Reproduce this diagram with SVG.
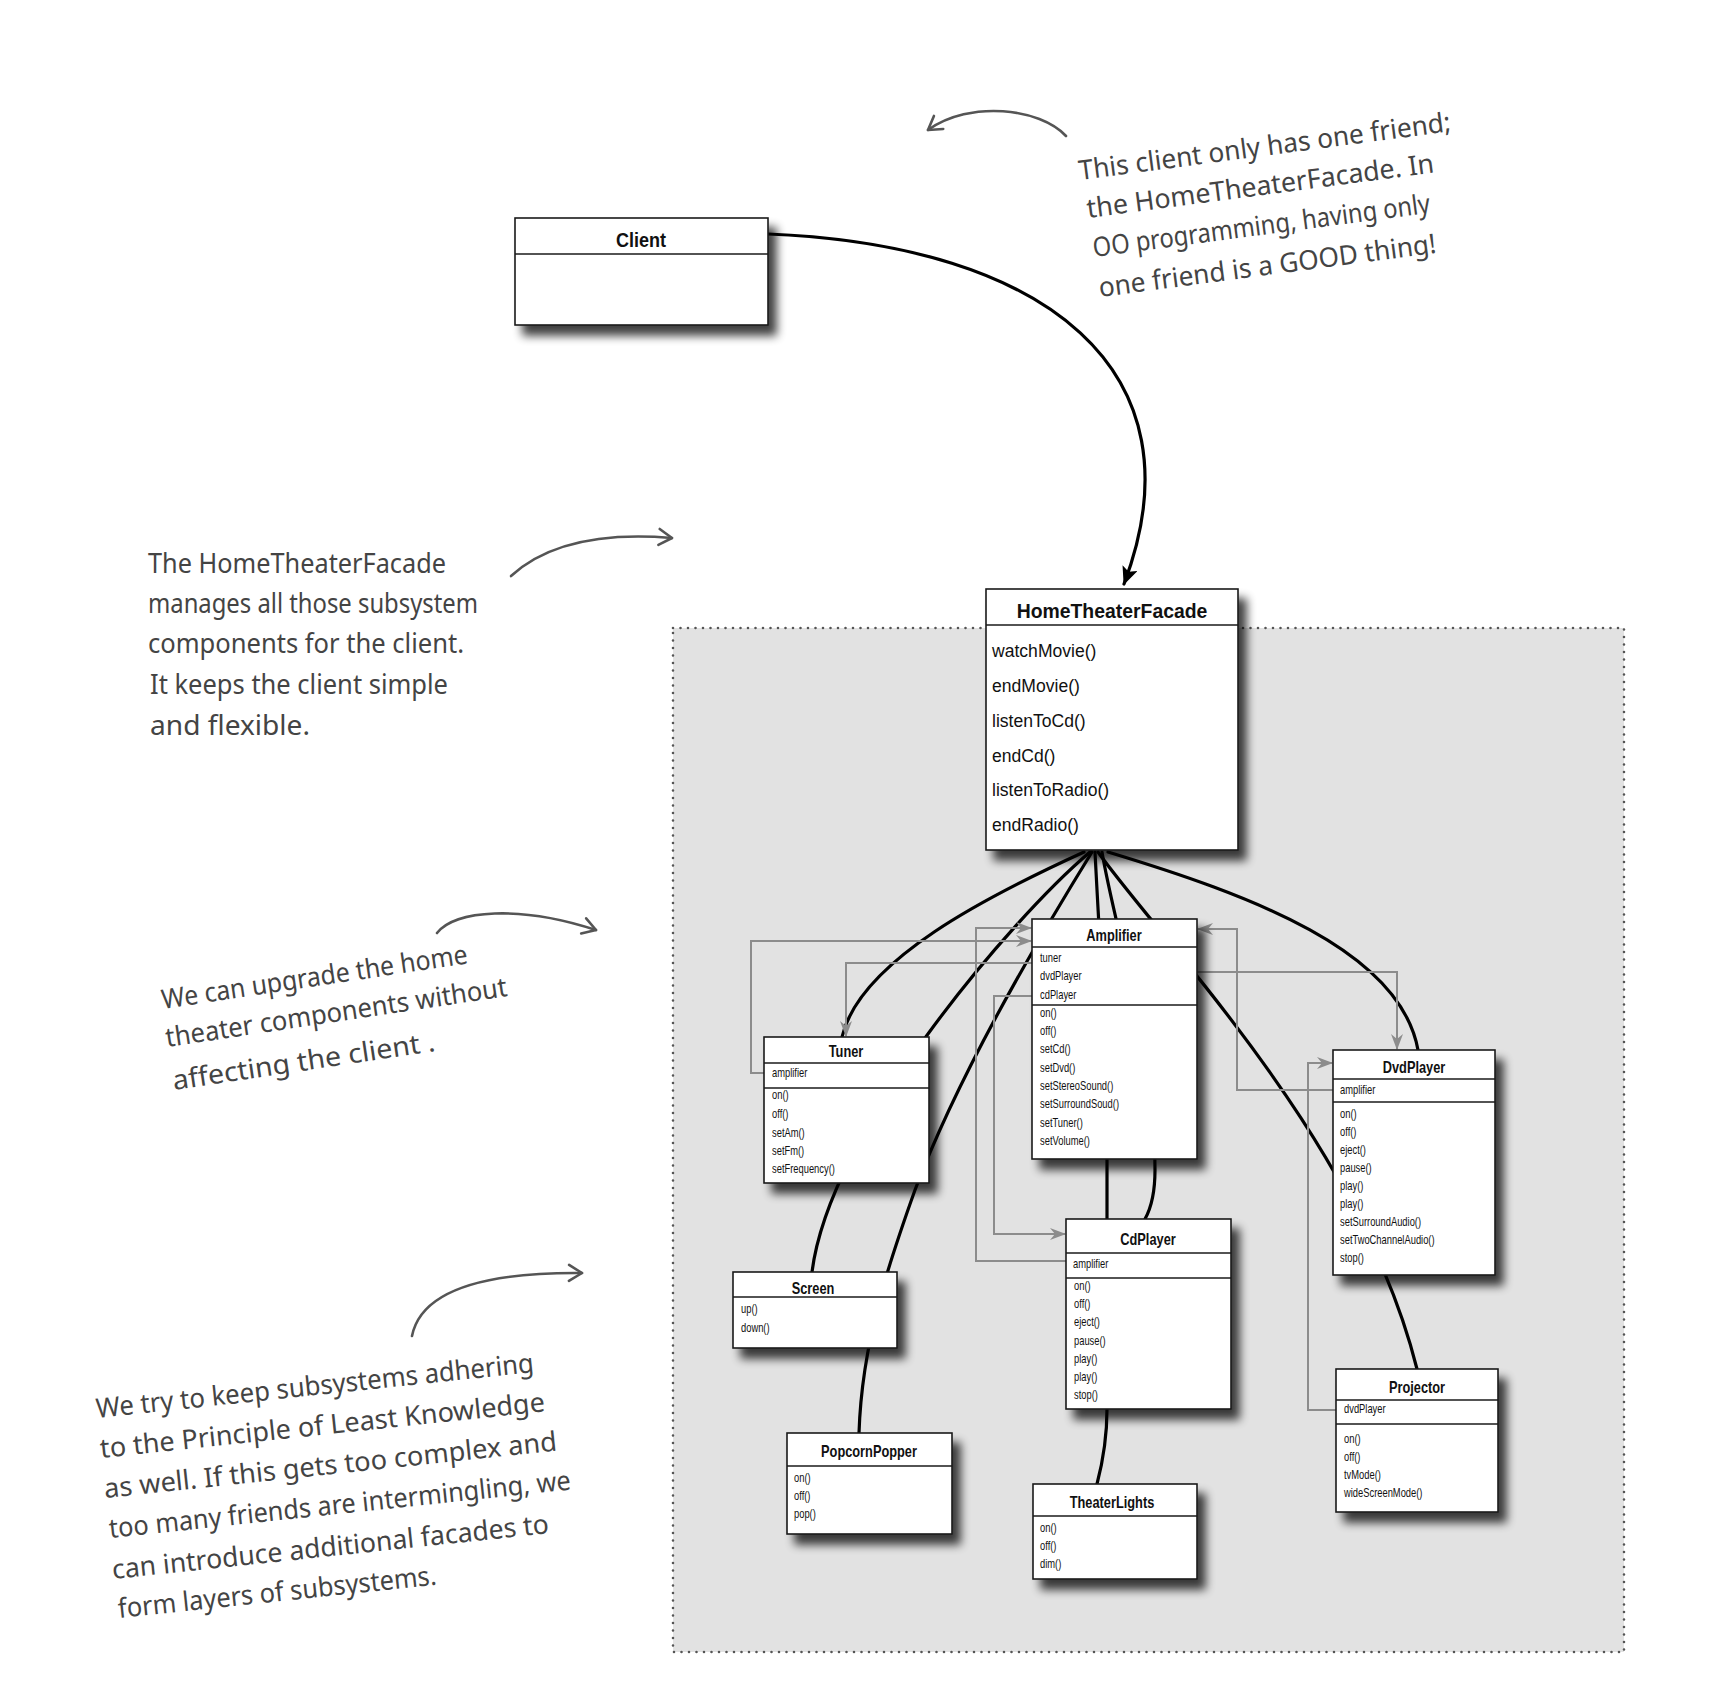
<svg xmlns="http://www.w3.org/2000/svg" width="1723" height="1699" viewBox="0 0 1723 1699">
<style>
.box{fill:#fff;stroke:#1a1a1a;stroke-width:1.6}
.div{stroke:#1a1a1a;stroke-width:1.4}
.ttl{font-family:"Liberation Sans",Arial,sans-serif;font-weight:bold;font-size:16px;fill:#111;text-anchor:middle}
.itm{font-family:"Liberation Sans",Arial,sans-serif;font-size:12px;fill:#111}
.big{font-family:"Liberation Sans",Arial,sans-serif;font-size:18.5px;fill:#111}
.bigttl{font-family:"Liberation Sans",Arial,sans-serif;font-weight:bold;font-size:20px;fill:#111;text-anchor:middle}
.blk{fill:none;stroke:#000;stroke-width:3.2;stroke-linecap:round}
.gry{fill:none;stroke:#8c8c8c;stroke-width:2}
.note{font-family:"Noto Sans","DejaVu Sans",sans-serif;font-size:27px;fill:#444}
.narr{fill:none;stroke:#555;stroke-width:2.6;stroke-linecap:round}
</style>
<defs>
<filter id="sh" x="-20%" y="-20%" width="150%" height="150%">
<feGaussianBlur in="SourceAlpha" stdDeviation="5"/>
<feOffset dx="8" dy="10" result="o"/>
<feComponentTransfer><feFuncA type="linear" slope="0.75"/></feComponentTransfer>
<feMerge><feMergeNode/><feMergeNode in="SourceGraphic"/></feMerge>
</filter>
<marker id="ga" markerUnits="userSpaceOnUse" markerWidth="16" markerHeight="12" viewBox="0 0 16 12" refX="15" refY="6" orient="auto">
<path d="M0,0 L16,6 L0,12 L5,6 z" fill="#8c8c8c"/>
</marker>
<marker id="ba" markerUnits="userSpaceOnUse" markerWidth="18" markerHeight="16" viewBox="0 0 18 16" refX="17" refY="8" orient="auto">
<path d="M0,0 L18,8 L0,16 L4,8 z" fill="#000"/>
</marker>
<marker id="na" markerUnits="userSpaceOnUse" markerWidth="20" markerHeight="20" viewBox="0 0 20 20" refX="17" refY="10" orient="auto">
<path d="M4,2 L17,10 L4,18" fill="none" stroke="#555" stroke-width="2.6" stroke-linecap="round" stroke-linejoin="round"/>
</marker>
</defs>

<rect x="0" y="0" width="1723" height="1699" fill="#fff"/>

<g id="subsystem-region">
<rect x="673" y="628" width="951" height="1024" fill="#e2e2e2" stroke="#555" stroke-width="2.6" stroke-dasharray="0 7.5" stroke-linecap="round"/>
</g>

<g id="connectors">
<path class="blk" d="M768,234 C1045,245 1205,370 1124,584" marker-end="url(#ba)"/>
<path class="blk" d="M1084,852 C990,895 860,960 842,1037"/>
<path class="blk" d="M1090,852 C1010,920 830,1130 812,1272"/>
<path class="blk" d="M1092,852 C1050,920 960,1070 915,1190 C890,1260 862,1340 859,1433"/>
<path class="blk" d="M1095,852 C1100,950 1107,1050 1107,1160 L1107,1409 C1107,1440 1102,1465 1097,1484"/>
<path class="blk" d="M1102,852 C1115,930 1155,1050 1155,1170 C1155,1195 1150,1210 1145,1219"/>
<path class="blk" d="M1098,852 C1160,940 1360,1140 1417,1369"/>
<path class="blk" d="M1108,852 C1250,895 1400,950 1418,1050"/>
<path class="gry" d="M764,1073 H751 V941 H1031" marker-end="url(#ga)"/>
<path class="gry" d="M1032,963 H846 V1036" marker-end="url(#ga)"/>
<path class="gry" d="M1066,1261 H976 V928 H1031" marker-end="url(#ga)"/>
<path class="gry" d="M1032,996 H994 V1234 H1065" marker-end="url(#ga)"/>
<path class="gry" d="M1333,1090 H1237 V929 H1198" marker-end="url(#ga)"/>
<path class="gry" d="M1197,972 H1397 V1049" marker-end="url(#ga)"/>
<path class="gry" d="M1336,1410 H1308 V1063 H1332" marker-end="url(#ga)"/>
</g>

<g id="node-client">
<rect class="box" x="515" y="218" width="253" height="107" filter="url(#sh)"/>
<line class="div" x1="515" y1="254" x2="768" y2="254"/>
<text class="bigttl" font-size="21" transform="translate(641,247) scale(0.9,1)">Client</text>
</g>

<g id="node-facade">
<rect class="box" x="986" y="589" width="252" height="261" filter="url(#sh)"/>
<line class="div" x1="986" y1="625" x2="1238" y2="625"/>
<text class="bigttl" transform="translate(1112,618) scale(0.97,1)">HomeTheaterFacade</text>
<text class="big" transform="translate(992,657) scale(0.95,1)">watchMovie()</text>
<text class="big" transform="translate(992,692) scale(0.95,1)">endMovie()</text>
<text class="big" transform="translate(992,727) scale(0.95,1)">listenToCd()</text>
<text class="big" transform="translate(992,762) scale(0.95,1)">endCd()</text>
<text class="big" transform="translate(992,796) scale(0.95,1)">listenToRadio()</text>
<text class="big" transform="translate(992,831) scale(0.95,1)">endRadio()</text>
</g>

<g id="node-amplifier">
<rect class="box" x="1032" y="919" width="165" height="240" filter="url(#sh)"/>
<line class="div" x1="1032" y1="947" x2="1197" y2="947"/>
<line class="div" x1="1032" y1="1005" x2="1197" y2="1005"/>
<text class="ttl" transform="translate(1114,941) scale(0.8,1)">Amplifier</text>
<text class="itm" transform="translate(1040,962) scale(0.78,1)">tuner</text>
<text class="itm" transform="translate(1040,980) scale(0.78,1)">dvdPlayer</text>
<text class="itm" transform="translate(1040,999) scale(0.78,1)">cdPlayer</text>
<text class="itm" transform="translate(1040,1017) scale(0.78,1)">on()</text>
<text class="itm" transform="translate(1040,1035) scale(0.78,1)">off()</text>
<text class="itm" transform="translate(1040,1053) scale(0.78,1)">setCd()</text>
<text class="itm" transform="translate(1040,1072) scale(0.78,1)">setDvd()</text>
<text class="itm" transform="translate(1040,1090) scale(0.78,1)">setStereoSound()</text>
<text class="itm" transform="translate(1040,1108) scale(0.78,1)">setSurroundSoud()</text>
<text class="itm" transform="translate(1040,1127) scale(0.78,1)">setTuner()</text>
<text class="itm" transform="translate(1040,1145) scale(0.78,1)">setVolume()</text>
</g>

<g id="node-tuner">
<rect class="box" x="764" y="1037" width="165" height="146" filter="url(#sh)"/>
<line class="div" x1="764" y1="1063" x2="929" y2="1063"/>
<line class="div" x1="764" y1="1088" x2="929" y2="1088"/>
<text class="ttl" transform="translate(846,1057) scale(0.8,1)">Tuner</text>
<text class="itm" transform="translate(772,1077) scale(0.78,1)">amplifier</text>
<text class="itm" transform="translate(772,1099) scale(0.78,1)">on()</text>
<text class="itm" transform="translate(772,1118) scale(0.78,1)">off()</text>
<text class="itm" transform="translate(772,1137) scale(0.78,1)">setAm()</text>
<text class="itm" transform="translate(772,1155) scale(0.78,1)">setFm()</text>
<text class="itm" transform="translate(772,1173) scale(0.78,1)">setFrequency()</text>
</g>

<g id="node-dvdplayer">
<rect class="box" x="1333" y="1050" width="162" height="225" filter="url(#sh)"/>
<line class="div" x1="1333" y1="1079" x2="1495" y2="1079"/>
<line class="div" x1="1333" y1="1102" x2="1495" y2="1102"/>
<text class="ttl" transform="translate(1414,1073) scale(0.8,1)">DvdPlayer</text>
<text class="itm" transform="translate(1340,1094) scale(0.78,1)">amplifier</text>
<text class="itm" transform="translate(1340,1118) scale(0.78,1)">on()</text>
<text class="itm" transform="translate(1340,1136) scale(0.78,1)">off()</text>
<text class="itm" transform="translate(1340,1154) scale(0.78,1)">eject()</text>
<text class="itm" transform="translate(1340,1172) scale(0.78,1)">pause()</text>
<text class="itm" transform="translate(1340,1190) scale(0.78,1)">play()</text>
<text class="itm" transform="translate(1340,1208) scale(0.78,1)">play()</text>
<text class="itm" transform="translate(1340,1226) scale(0.78,1)">setSurroundAudio()</text>
<text class="itm" transform="translate(1340,1244) scale(0.78,1)">setTwoChannelAudio()</text>
<text class="itm" transform="translate(1340,1262) scale(0.78,1)">stop()</text>
</g>

<g id="node-cdplayer">
<rect class="box" x="1066" y="1219" width="165" height="190" filter="url(#sh)"/>
<line class="div" x1="1066" y1="1253" x2="1231" y2="1253"/>
<line class="div" x1="1066" y1="1278" x2="1231" y2="1278"/>
<text class="ttl" transform="translate(1148,1245) scale(0.8,1)">CdPlayer</text>
<text class="itm" transform="translate(1073,1268) scale(0.78,1)">amplifier</text>
<text class="itm" transform="translate(1074,1290) scale(0.78,1)">on()</text>
<text class="itm" transform="translate(1074,1308) scale(0.78,1)">off()</text>
<text class="itm" transform="translate(1074,1326) scale(0.78,1)">eject()</text>
<text class="itm" transform="translate(1074,1345) scale(0.78,1)">pause()</text>
<text class="itm" transform="translate(1074,1363) scale(0.78,1)">play()</text>
<text class="itm" transform="translate(1074,1381) scale(0.78,1)">play()</text>
<text class="itm" transform="translate(1074,1399) scale(0.78,1)">stop()</text>
</g>

<g id="node-screen">
<rect class="box" x="733" y="1272" width="164" height="76" filter="url(#sh)"/>
<line class="div" x1="733" y1="1297" x2="897" y2="1297"/>
<text class="ttl" transform="translate(813,1294) scale(0.8,1)">Screen</text>
<text class="itm" transform="translate(741,1313) scale(0.78,1)">up()</text>
<text class="itm" transform="translate(741,1332) scale(0.78,1)">down()</text>
</g>

<g id="node-popcornpopper">
<rect class="box" x="787" y="1433" width="165" height="101" filter="url(#sh)"/>
<line class="div" x1="787" y1="1466" x2="952" y2="1466"/>
<text class="ttl" transform="translate(869,1457) scale(0.8,1)">PopcornPopper</text>
<text class="itm" transform="translate(794,1482) scale(0.78,1)">on()</text>
<text class="itm" transform="translate(794,1500) scale(0.78,1)">off()</text>
<text class="itm" transform="translate(794,1518) scale(0.78,1)">pop()</text>
</g>

<g id="node-theaterlights">
<rect class="box" x="1033" y="1484" width="164" height="95" filter="url(#sh)"/>
<line class="div" x1="1033" y1="1516" x2="1197" y2="1516"/>
<text class="ttl" transform="translate(1112,1508) scale(0.8,1)">TheaterLights</text>
<text class="itm" transform="translate(1040,1532) scale(0.78,1)">on()</text>
<text class="itm" transform="translate(1040,1550) scale(0.78,1)">off()</text>
<text class="itm" transform="translate(1040,1568) scale(0.78,1)">dim()</text>
</g>

<g id="node-projector">
<rect class="box" x="1336" y="1369" width="162" height="143" filter="url(#sh)"/>
<line class="div" x1="1336" y1="1400" x2="1498" y2="1400"/>
<line class="div" x1="1336" y1="1424" x2="1498" y2="1424"/>
<text class="ttl" transform="translate(1417,1393) scale(0.8,1)">Projector</text>
<text class="itm" transform="translate(1344,1413) scale(0.78,1)">dvdPlayer</text>
<text class="itm" transform="translate(1344,1443) scale(0.78,1)">on()</text>
<text class="itm" transform="translate(1344,1461) scale(0.78,1)">off()</text>
<text class="itm" transform="translate(1344,1479) scale(0.78,1)">tvMode()</text>
<text class="itm" transform="translate(1344,1497) scale(0.78,1)">wideScreenMode()</text>
</g>

<g id="annotations">
<path class="narr" d="M1066,136 C1040,108 970,100 928,130" marker-end="url(#na)"/>
<path class="narr" d="M511,576 C545,545 600,532 672,538" marker-end="url(#na)"/>
<path class="narr" d="M437,933 C455,910 520,905 596,930" marker-end="url(#na)"/>
<path class="narr" d="M412,1336 C420,1296 470,1272 582,1273" marker-end="url(#na)"/>

<text class="note" transform="translate(1080,180) rotate(-7.5)" textLength="375" lengthAdjust="spacingAndGlyphs">This client only has one friend;</text>
<text class="note" transform="translate(1088,218) rotate(-7.5)" textLength="350" lengthAdjust="spacingAndGlyphs">the HomeTheaterFacade.  In</text>
<text class="note" transform="translate(1094,257) rotate(-7.5)" textLength="340" lengthAdjust="spacingAndGlyphs">OO programming, having only</text>
<text class="note" transform="translate(1100,297) rotate(-7.5)" textLength="340" lengthAdjust="spacingAndGlyphs">one friend is a GOOD thing!</text>

<text class="note" x="148" y="573" textLength="298" lengthAdjust="spacingAndGlyphs">The HomeTheaterFacade</text>
<text class="note" x="148" y="613" textLength="330" lengthAdjust="spacingAndGlyphs">manages all those subsystem</text>
<text class="note" x="148" y="653" textLength="316" lengthAdjust="spacingAndGlyphs">components for the client.</text>
<text class="note" x="150" y="694" textLength="298" lengthAdjust="spacingAndGlyphs">It keeps the client simple</text>
<text class="note" x="150" y="735" textLength="160" lengthAdjust="spacingAndGlyphs">and flexible.</text>

<text class="note" transform="translate(163,1009) rotate(-8.5)" textLength="309" lengthAdjust="spacingAndGlyphs">We can upgrade the home</text>
<text class="note" transform="translate(167,1047) rotate(-8.5)" textLength="345" lengthAdjust="spacingAndGlyphs">theater components without</text>
<text class="note" transform="translate(174,1090) rotate(-8.5)" textLength="265" lengthAdjust="spacingAndGlyphs">affecting the client .</text>

<text class="note" transform="translate(97,1418) rotate(-6)" textLength="440" lengthAdjust="spacingAndGlyphs">We try to keep subsystems adhering</text>
<text class="note" transform="translate(101,1458) rotate(-6)" textLength="447" lengthAdjust="spacingAndGlyphs">to the Principle of Least Knowledge</text>
<text class="note" transform="translate(105,1498) rotate(-6)" textLength="455" lengthAdjust="spacingAndGlyphs">as well.  If this gets too complex and</text>
<text class="note" transform="translate(110,1538) rotate(-6)" textLength="464" lengthAdjust="spacingAndGlyphs">too many friends are intermingling, we</text>
<text class="note" transform="translate(113,1579) rotate(-6)" textLength="439" lengthAdjust="spacingAndGlyphs">can introduce additional facades to</text>
<text class="note" transform="translate(119,1618) rotate(-6)" textLength="320" lengthAdjust="spacingAndGlyphs">form layers of subsystems.</text>
</g>
</svg>
